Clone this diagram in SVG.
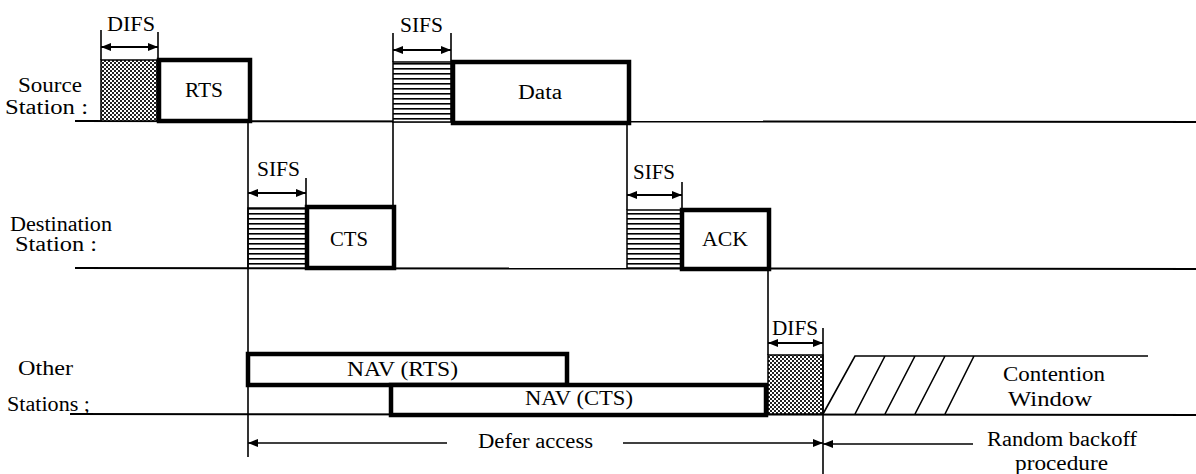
<svg xmlns="http://www.w3.org/2000/svg" width="1196" height="474" viewBox="0 0 1196 474">
<style>
text{font-family:'Liberation Serif','Times New Roman','DejaVu Serif',serif;font-size:20px;fill:#000;}
.base{stroke:#000;stroke-width:2;fill:none;}
.thin{stroke:#000;stroke-width:1.6;fill:none;}
.box{stroke:#000;stroke-width:4.5;fill:#fff;}
.dim{stroke:#000;stroke-width:1.8;fill:none;marker-start:url(#ah);marker-end:url(#ah);}
.dots{fill:url(#dots);stroke:#000;stroke-width:1.5;}
.lines{fill:url(#hl);stroke:#000;stroke-width:1.5;}
</style>
<defs>
<marker id="ah" markerUnits="userSpaceOnUse" markerWidth="10" markerHeight="8" refX="10" refY="4" orient="auto-start-reverse">
<path d="M0,0 L10,4 L0,8 z" fill="#000"/>
</marker>
<pattern id="dots" width="4" height="4" patternUnits="userSpaceOnUse">
<rect width="4" height="4" fill="#fff"/>
<rect x="0" y="0" width="2" height="2" fill="#222"/>
<rect x="2" y="2" width="2" height="2" fill="#222"/>
</pattern>
<pattern id="hl" width="5" height="5" patternUnits="userSpaceOnUse">
<rect width="5" height="5" fill="#fff"/>
<rect x="0" y="3" width="5" height="1.6" fill="#000"/>
</pattern>
</defs>
<rect width="1196" height="474" fill="#fff"/>

<g id="baselines">
<line class="base" x1="75" y1="121" x2="1196" y2="122"/>
<line class="base" x1="75" y1="268" x2="1196" y2="269"/>
<line class="base" x1="70" y1="414" x2="1196" y2="415"/>
</g>

<g id="source-station">
<text x="18" y="92" textLength="64" lengthAdjust="spacingAndGlyphs">Source</text>
<text x="5" y="114" textLength="83" lengthAdjust="spacingAndGlyphs">Station :</text>
</g>
<g id="destination-station">
<text x="10" y="231" textLength="102" lengthAdjust="spacingAndGlyphs">Destination</text>
<text x="15" y="251" textLength="82" lengthAdjust="spacingAndGlyphs">Station :</text>
</g>
<g id="other-stations">
<text x="18" y="375" textLength="55" lengthAdjust="spacingAndGlyphs">Other</text>
<text x="7" y="411" textLength="83" lengthAdjust="spacingAndGlyphs">Stations ;</text>
</g>

<g id="difs-source">
<rect class="dots" x="101" y="60" width="56" height="61"/>
<text x="107" y="31" textLength="48" lengthAdjust="spacingAndGlyphs">DIFS</text>
</g>
<g id="rts">
<rect class="box" x="159" y="60" width="91" height="61"/>
<text x="185" y="97" textLength="38" lengthAdjust="spacingAndGlyphs">RTS</text>
</g>
<g id="sifs-data">
<rect class="lines" x="393" y="62" width="58" height="60"/>
<text x="400" y="32" textLength="43" lengthAdjust="spacingAndGlyphs">SIFS</text>
</g>
<g id="data">
<rect class="box" x="453" y="62" width="176" height="61"/>
<text x="518" y="99" textLength="44" lengthAdjust="spacingAndGlyphs">Data</text>
</g>
<g id="sifs-cts">
<rect class="lines" x="248" y="208" width="58" height="60"/>
<text x="257" y="176" textLength="43" lengthAdjust="spacingAndGlyphs">SIFS</text>
</g>
<g id="cts">
<rect class="box" x="307" y="207" width="87" height="61"/>
<text x="330" y="246" textLength="38" lengthAdjust="spacingAndGlyphs">CTS</text>
</g>
<g id="sifs-ack">
<rect class="lines" x="627" y="210" width="55" height="58"/>
<text x="633" y="179" textLength="42" lengthAdjust="spacingAndGlyphs">SIFS</text>
</g>
<g id="ack">
<rect class="box" x="682" y="210" width="87" height="59"/>
<text x="702" y="246" textLength="46" lengthAdjust="spacingAndGlyphs">ACK</text>
</g>
<g id="nav-rts">
<rect class="box" x="248" y="354" width="319" height="31"/>
<text x="347" y="376" textLength="111" lengthAdjust="spacingAndGlyphs">NAV (RTS)</text>
</g>
<g id="nav-cts">
<rect class="box" x="391" y="385" width="375" height="30"/>
<text x="525" y="405" textLength="108" lengthAdjust="spacingAndGlyphs">NAV (CTS)</text>
</g>
<g id="difs-other">
<rect class="dots" x="768" y="355" width="55" height="59"/>
<text x="772" y="335" textLength="46" lengthAdjust="spacingAndGlyphs">DIFS</text>
</g>
<g id="contention-window">
<path class="thin" d="M823,414 L855,356 L1148,356 M855,414 L885,356 M885,414 L915,356 M915,414 L945,356 M945,414 L974,356"/>
<text x="1003" y="381" textLength="102" lengthAdjust="spacingAndGlyphs">Contention</text>
<text x="1008" y="406" textLength="84" lengthAdjust="spacingAndGlyphs">Window</text>
</g>
<g id="defer-access">
<text x="478" y="448" textLength="115" lengthAdjust="spacingAndGlyphs">Defer access</text>
</g>
<g id="random-backoff">
<text x="987" y="446" textLength="150" lengthAdjust="spacingAndGlyphs">Random backoff</text>
<text x="1015" y="470" textLength="93" lengthAdjust="spacingAndGlyphs">procedure</text>
</g>

<g id="connectors">
<line class="thin" x1="101" y1="30" x2="101" y2="60"/>
<line class="thin" x1="158" y1="32" x2="158" y2="60"/>
<line class="thin" x1="393" y1="33" x2="393" y2="62"/>
<line class="thin" x1="451" y1="33" x2="451" y2="62"/>
<line class="thin" x1="393" y1="122" x2="393" y2="207"/>
<line class="thin" x1="248" y1="122" x2="248" y2="457"/>
<line class="thin" x1="306" y1="178" x2="306" y2="208"/>
<line class="thin" x1="627" y1="123" x2="627" y2="210"/>
<line class="thin" x1="682" y1="182" x2="682" y2="210"/>
<line class="thin" x1="768" y1="269" x2="768" y2="355"/>
<line class="thin" x1="823" y1="328" x2="823" y2="474"/>
<line class="dim" x1="101" y1="47" x2="158" y2="47"/>
<line class="dim" x1="393" y1="50" x2="451" y2="50"/>
<line class="dim" x1="248" y1="193" x2="306" y2="193"/>
<line class="dim" x1="627" y1="195" x2="682" y2="195"/>
<line class="dim" x1="768" y1="343" x2="823" y2="343"/>
<line class="thin" x1="248" y1="443" x2="447" y2="443" style="marker-start:url(#ah)"/>
<line class="thin" x1="623" y1="443" x2="823" y2="443" style="marker-end:url(#ah)"/>
<line class="thin" x1="823" y1="444" x2="973" y2="444" style="marker-start:url(#ah)"/>
</g>
</svg>
